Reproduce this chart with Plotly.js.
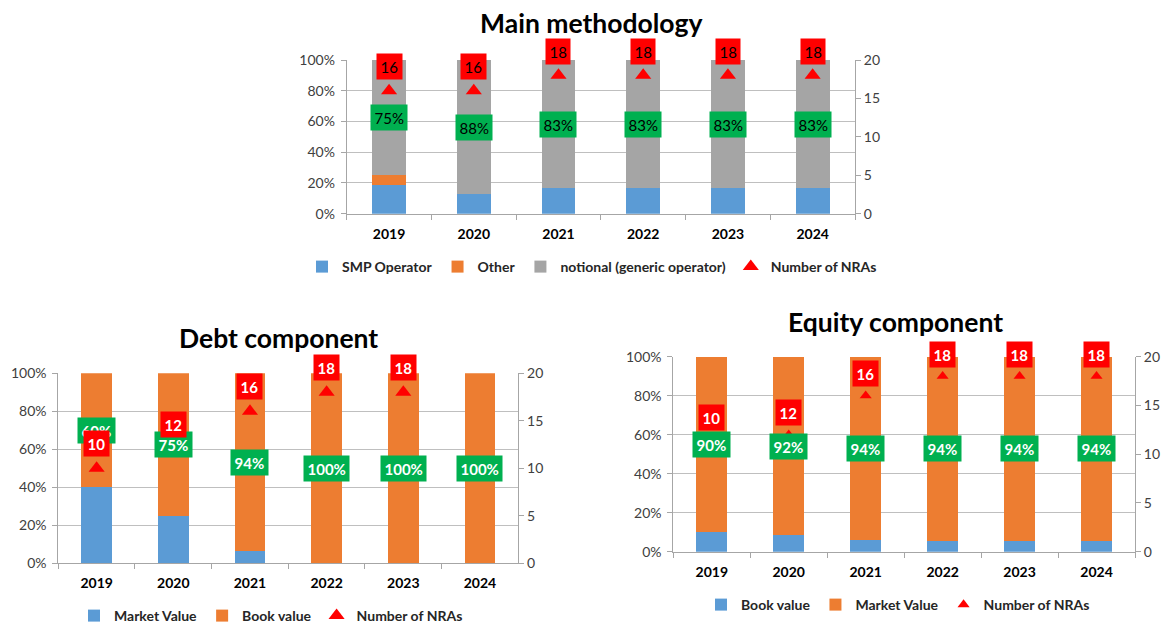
<!DOCTYPE html>
<html>
<head>
<meta charset="utf-8">
<script src="https://cdn.plot.ly/plotly-3.0.1.min.js"></script>
<style>html,body{margin:0;padding:0;background:#fff;}#chart{width:1171px;height:626px;}</style>
</head>
<body>
<div id="chart"></div>
<script>
// ---------- data ----------
const years = ['2019', '2020', '2021', '2022', '2023', '2024'];

const mainSMP      = [18.75, 12.5, 16.67, 16.67, 16.67, 16.67];
const mainOther    = [6.25, 0, 0, 0, 0, 0];
const mainNotional = [75, 87.5, 83.33, 83.33, 83.33, 83.33];
const mainNRAs     = [16, 16, 18, 18, 18, 18];

const debtMarket = [40, 25, 6.25, 0, 0, 0];
const debtBook   = [60, 75, 93.75, 100, 100, 100];
const debtNRAs   = [10, 12, 16, 18, 18, null];

const equityBook   = [10, 8.33, 6.25, 5.56, 5.56, 5.56];
const equityMarket = [90, 91.67, 93.75, 94.44, 94.44, 94.44];
const equityNRAs   = [10, 12, 16, 18, 18, 18];

// ---------- styling ----------
const BLUE = '#5b9bd5', ORANGE = '#ed7d31', GREY = '#a5a5a5', GREEN = '#00b050', RED = '#ff0000';
const FONT = 'Lato, "Open Sans", sans-serif';
const W = 1171, H = 626;
const px = v => v / W;
const py = v => 1 - v / H;

const traces = [];
function bar(name, y, color, xa, ya, legend) {
  traces.push({type: 'bar', name: name, x: years, y: y, marker: {color: color},
    xaxis: xa, yaxis: ya, legend: legend, hoverinfo: 'skip'});
}
function tri(y, xa, ya, legend, size) {
  traces.push({type: 'scatter', mode: 'markers', name: 'Number of NRAs', x: years, y: y,
    marker: {symbol: 'triangle-up', color: RED, size: size},
    xaxis: xa, yaxis: ya, legend: legend, hoverinfo: 'skip'});
}

// Main methodology
bar('SMP Operator', mainSMP, BLUE, 'x', 'y', 'legend');
bar('Other', mainOther, ORANGE, 'x', 'y', 'legend');
bar('notional (generic operator)', mainNotional, GREY, 'x', 'y', 'legend');
tri(mainNRAs, 'x', 'y2', 'legend', 14);

// Debt
bar('Market Value', debtMarket, BLUE, 'x2', 'y3', 'legend2');
bar('Book value', debtBook, ORANGE, 'x2', 'y3', 'legend2');
tri(debtNRAs, 'x2', 'y4', 'legend2', 14);

// Equity
bar('Book value', equityBook, BLUE, 'x3', 'y5', 'legend3');
bar('Market Value', equityMarket, ORANGE, 'x3', 'y5', 'legend3');
tri(equityNRAs, 'x3', 'y6', 'legend3', 10.5);

// ---------- annotations ----------
const annotations = [];
function greenLabels(base, vals, xa, ya, white) {
  years.forEach((yr, i) => {
    if (vals[i] == null) return;
    annotations.push({x: i, y: base[i] + vals[i] / 2, xref: xa, yref: ya,
      text: white ? '<b>' + Math.round(vals[i]) + '%</b>' : Math.round(vals[i]) + '%',
      showarrow: false, bgcolor: GREEN, borderpad: 3.5,
      font: {family: FONT, size: 15, color: white ? '#ffffff' : '#000000'}});
  });
}
function redLabels(vals, xa, ya, white, shifts) {
  years.forEach((yr, i) => {
    if (vals[i] == null) return;
    annotations.push({x: i, y: vals[i], xref: xa, yref: ya,
      text: white ? '<b>' + vals[i] + '</b>' : String(vals[i]),
      showarrow: false, bgcolor: RED, borderpad: 3.5, yshift: shifts[i],
      font: {family: FONT, size: 15, color: white ? '#ffffff' : '#000000'}});
  });
}
const mainBase = mainSMP.map((v, i) => v + mainOther[i]);
greenLabels(mainBase, mainNotional, 'x', 'y', false);
redLabels(mainNRAs, 'x', 'y2', false, [24, 24, 24, 24, 24, 24]);

greenLabels(debtMarket, debtBook, 'x2', 'y3', true);
redLabels(debtNRAs, 'x2', 'y4', true, [25, 25, 25, 25, 25, 25]);

greenLabels(equityBook, equityMarket, 'x3', 'y5', true);
redLabels(equityNRAs, 'x3', 'y6', true, [37, 22, 22, 22, 22, 22]);

function title(text, cx, cy) {
  annotations.push({text: '<b>' + text + '</b>', xref: 'paper', yref: 'paper',
    x: px(cx), y: py(cy), xanchor: 'center', yanchor: 'middle', showarrow: false,
    font: {family: FONT, size: 26.5, color: '#000000'}});
}
title('Main methodology', 591, 23);
title('Debt component', 278, 338);
title('Equity component', 895, 322);

// ---------- axes ----------
const tickFont = {family: FONT, size: 14, color: '#404040'};
function xAxis(d0, d1, anchor) {
  return {domain: [px(d0), px(d1)], anchor: anchor, type: 'category',
    range: [-0.5, years.length - 0.5], autorange: false,
    showline: true, linecolor: '#a6a6a6', linewidth: 1,
    ticks: 'outside', tickson: 'boundaries', ticklen: 5, tickcolor: '#a6a6a6',
    ticklabelstandoff: 7, tickangle: 0,
    tickfont: {family: FONT, size: 14, color: '#000000', weight: 'bold'},
    showgrid: false, fixedrange: true};
}
function yLeft(top, bottom, anchor) {
  return {domain: [py(bottom), py(top)], anchor: anchor, range: [0, 100], dtick: 20,
    ticksuffix: '%', showline: true, linecolor: '#a6a6a6', linewidth: 1,
    ticks: 'outside', ticklen: 5, tickcolor: '#a6a6a6', ticklabelstandoff: 3,
    showgrid: true, gridcolor: '#bfbfbf', gridwidth: 1, zeroline: false,
    tickfont: tickFont, fixedrange: true};
}
function yRight(over, anchor) {
  return {overlaying: over, anchor: anchor, side: 'right', range: [0, 20], dtick: 5,
    showline: true, linecolor: '#a6a6a6', linewidth: 1,
    ticks: 'outside', ticklen: 5, tickcolor: '#a6a6a6',
    showgrid: false, zeroline: false, tickfont: tickFont, fixedrange: true};
}
function legend(cx, cy) {
  return {orientation: 'h', x: px(cx), xanchor: 'center', y: py(cy), yanchor: 'middle',
    itemwidth: 30,
    font: {family: FONT, size: 14, color: '#262626', weight: 'bold'},
    bgcolor: 'rgba(0,0,0,0)', traceorder: 'normal', itemclick: false, itemdoubleclick: false};
}

const layout = {
  width: W, height: H,
  margin: {l: 0, r: 0, t: 0, b: 0, autoexpand: false},
  paper_bgcolor: '#ffffff', plot_bgcolor: '#ffffff',
  barmode: 'stack', bargap: 0.6,
  showlegend: true, hovermode: false,
  font: {family: FONT},
  xaxis: xAxis(346.7, 855, 'y'),
  yaxis: yLeft(60, 213.7, 'x'),
  yaxis2: yRight('y', 'x'),
  xaxis2: xAxis(58.3, 518.3, 'y3'),
  yaxis3: yLeft(373.3, 563.3, 'x2'),
  yaxis4: yRight('y3', 'x2'),
  xaxis3: xAxis(673.3, 1135, 'y5'),
  yaxis5: yLeft(356.7, 551.7, 'x3'),
  yaxis6: yRight('y5', 'x3'),
  legend: legend(592, 267),
  legend2: legend(271, 616),
  legend3: legend(898, 605),
  annotations: annotations
};

Plotly.newPlot('chart', traces, layout, {displayModeBar: false, staticPlot: true});
</script>
</body>
</html>
